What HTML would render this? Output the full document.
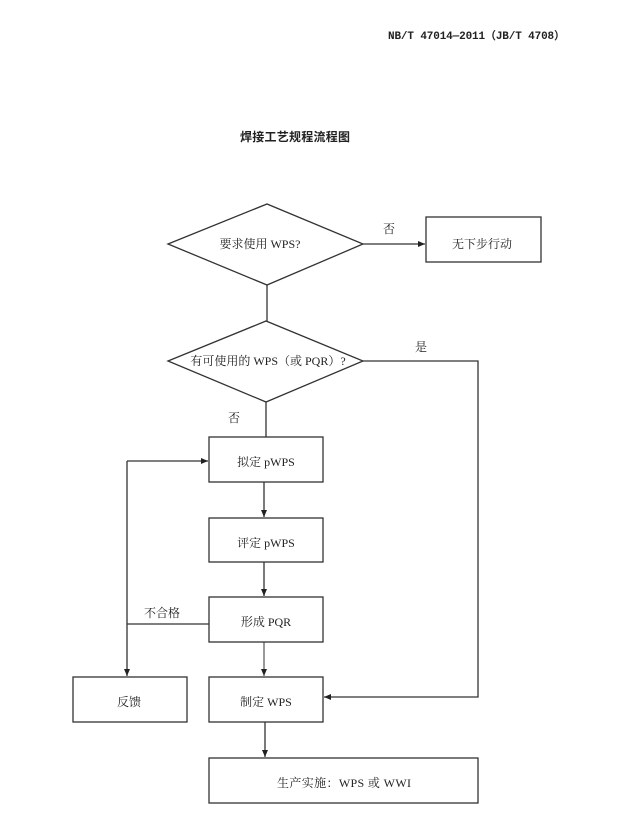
<!DOCTYPE html>
<html><head><meta charset="utf-8"><style>
html,body{margin:0;padding:0;background:#fff;}
svg{display:block;}
.t{font-family:"Liberation Serif","Noto Serif CJK SC",serif;font-size:12px;fill:#222;}
.h{font-family:"Liberation Mono","Noto Sans CJK SC",sans-serif;font-size:11px;font-weight:bold;fill:#222;}
.ti{font-family:"Liberation Sans","Noto Sans CJK SC",sans-serif;font-size:12px;font-weight:bold;fill:#222;}
</style></head><body>
<svg width="626" height="837" viewBox="0 0 626 837" xmlns="http://www.w3.org/2000/svg">
<defs>
<marker id="a" markerWidth="8" markerHeight="8" refX="7" refY="4" orient="auto" markerUnits="userSpaceOnUse">
<path d="M0,1 L7,4 L0,7 Z" fill="#222"/>
</marker>
</defs>
<text class="h" x="388" y="39" textLength="177" lengthAdjust="spacing">NB/T 47014—2011（JB/T 4708）</text>
<text class="ti" x="240" y="141" textLength="110" lengthAdjust="spacing">焊接工艺规程流程图</text>

<g stroke="#333" stroke-width="1.3" fill="none">
<polygon points="168,244 267,204 363,244 267,285"/>
<polygon points="168,361 266,321 363,361 266,402"/>
<rect x="426" y="217" width="115" height="45"/>
<rect x="209" y="437" width="114" height="45"/>
<rect x="209" y="518" width="114" height="44"/>
<rect x="209" y="597" width="114" height="45"/>
<rect x="209" y="677" width="114" height="45"/>
<rect x="73" y="677" width="114" height="45"/>
<rect x="209" y="758" width="269" height="45"/>
<line x1="363" y1="244" x2="425" y2="244" marker-end="url(#a)"/>
<line x1="267" y1="285" x2="267" y2="321"/>
<line x1="266" y1="402" x2="266" y2="437"/>
<polyline points="363,361 478,361 478,697 324,697" marker-end="url(#a)"/>
<line x1="264" y1="482" x2="264" y2="517" marker-end="url(#a)"/>
<line x1="264" y1="562" x2="264" y2="596" marker-end="url(#a)"/>
<line x1="264" y1="642" x2="264" y2="676" marker-end="url(#a)" stroke-width="1"/>
<line x1="265" y1="722" x2="265" y2="757" marker-end="url(#a)"/>
<line x1="209" y1="624" x2="127" y2="624"/>
<line x1="127" y1="461" x2="127" y2="676" marker-end="url(#a)"/>
<line x1="127" y1="461" x2="208" y2="461" marker-end="url(#a)"/>
</g>

<g class="t" text-anchor="middle">
<text x="260" y="248">要求使用 WPS?</text>
<text x="482" y="248">无下步行动</text>
<text x="389" y="233">否</text>
<text x="268" y="365">有可使用的 WPS（或 PQR）?</text>
<text x="421" y="351">是</text>
<text x="234" y="422">否</text>
<text x="266" y="466">拟定 pWPS</text>
<text x="266" y="547">评定 pWPS</text>
<text x="266" y="626">形成 PQR</text>
<text x="266" y="706">制定 WPS</text>
<text x="129" y="706">反馈</text>
<text x="162" y="617">不合格</text>
<text x="344" y="787" textLength="134" lengthAdjust="spacing">生产实施：WPS 或 WWI</text>
</g>
</svg>
</body></html>
